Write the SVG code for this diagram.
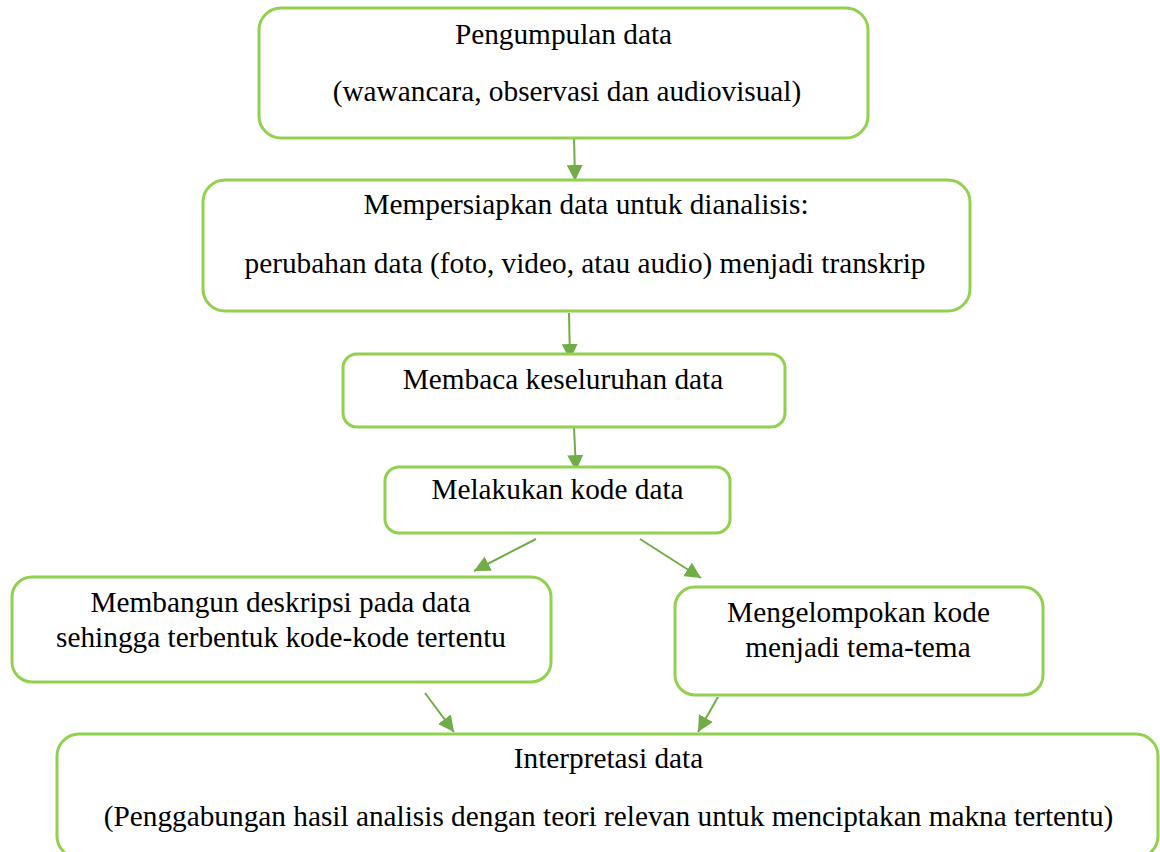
<svg xmlns="http://www.w3.org/2000/svg" width="1160" height="852" viewBox="0 0 1160 852">
<style>
.box{fill:#ffffff;stroke:#92D050;stroke-width:3}
.t{font-family:"Liberation Serif","Times New Roman",serif;font-size:29.3px;fill:#000000;text-anchor:middle}
.c{stroke:#70AD47;stroke-width:2;fill:none}
</style>
<defs>
<marker id="ah" markerUnits="userSpaceOnUse" markerWidth="16" markerHeight="16" viewBox="0 0 16 16" refX="16" refY="8" orient="auto">
<path d="M0,0 L16,8 L0,16 Z" fill="#70AD47"/>
</marker>
</defs>
<rect width="1160" height="852" fill="#ffffff"/>
<g id="connectors">
<line class="c" x1="574" y1="135" x2="575" y2="181" marker-end="url(#ah)"/>
<line class="c" x1="569" y1="313" x2="570" y2="360" marker-end="url(#ah)"/>
<line class="c" x1="574" y1="427" x2="576" y2="471" marker-end="url(#ah)"/>
<line class="c" x1="536" y1="539" x2="474" y2="571" marker-end="url(#ah)"/>
<line class="c" x1="640" y1="539" x2="701" y2="578" marker-end="url(#ah)"/>
<line class="c" x1="425" y1="693" x2="454" y2="732" marker-end="url(#ah)"/>
<line class="c" x1="718" y1="697" x2="698" y2="732" marker-end="url(#ah)"/>
</g>
<g id="node1">
<rect class="box" x="259" y="8" width="609" height="130" rx="22"/>
<text class="t" x="563.5" y="44">Pengumpulan data</text>
<text class="t" x="567" y="101">(wawancara, observasi dan audiovisual)</text>
</g>
<g id="node2">
<rect class="box" x="203" y="180" width="767" height="131" rx="22"/>
<text class="t" x="586" y="214">Mempersiapkan data untuk dianalisis:</text>
<text class="t" x="585" y="273">perubahan data (foto, video, atau audio) menjadi transkrip</text>
</g>
<g id="node3">
<rect class="box" x="343" y="354" width="442" height="73" rx="14"/>
<text class="t" x="563" y="389">Membaca keseluruhan data</text>
</g>
<g id="node4">
<rect class="box" x="385" y="467" width="345" height="66" rx="14"/>
<text class="t" x="557.5" y="499">Melakukan kode data</text>
</g>
<g id="node5">
<rect class="box" x="12" y="577" width="539" height="105" rx="20"/>
<text class="t" x="280.5" y="612">Membangun deskripsi pada data</text>
<text class="t" x="281" y="647">sehingga terbentuk kode-kode tertentu</text>
</g>
<g id="node6">
<rect class="box" x="675" y="587" width="368" height="108" rx="20"/>
<text class="t" x="858.5" y="622">Mengelompokan kode</text>
<text class="t" x="858" y="657">menjadi tema-tema</text>
</g>
<g id="node7">
<rect class="box" x="57" y="734" width="1101" height="124" rx="22"/>
<text class="t" x="608.5" y="768">Interpretasi data</text>
<text class="t" x="608.5" y="826">(Penggabungan hasil analisis dengan teori relevan untuk menciptakan makna tertentu)</text>
</g>
</svg>
